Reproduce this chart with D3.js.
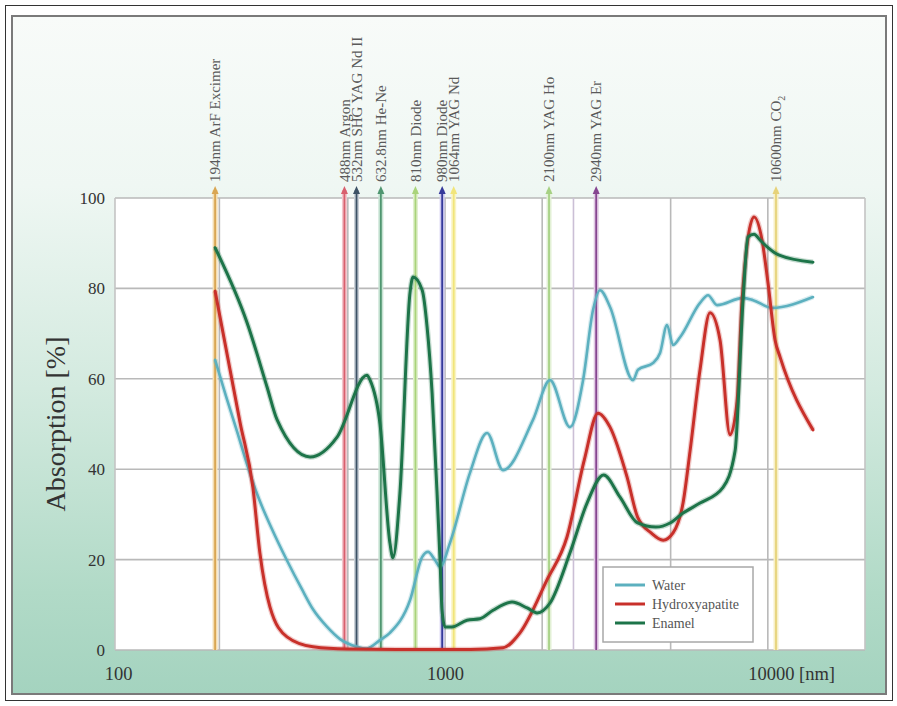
<!DOCTYPE html>
<html>
<head>
<meta charset="utf-8">
<script src="https://cdn.jsdelivr.net/npm/d3@7"></script>
<style>
  html, body { margin: 0; padding: 0; background: #ffffff; }
  svg { display: block; }
</style>
</head>
<body>
<svg id="chart" width="897" height="706"></svg>
<script>
// ---------------- DATA ----------------
const waterWl  = [194, 210, 227, 245, 265, 290, 324, 360, 390, 430, 473, 534, 570, 629, 675, 779, 850, 886, 931, 965, 1036, 1195, 1350, 1512, 1873, 2115, 2439, 2677, 2874, 3021, 3245, 3824, 3962, 4410, 4636, 4873, 5086, 5347, 6166, 6529, 6961, 8381, 9000, 10303, 13800];
const waterAbs = [64.2, 56, 48.3, 40.5, 33.5, 27, 19.8, 13.5, 9, 5.2, 2.4, 0.7, 0.3, 2.2, 3.8, 11, 20.6, 21.7, 19.9, 18.4, 23.7, 39.2, 48, 39.8, 50.9, 59.7, 49.3, 59.7, 75.2, 79.6, 75.9, 59.7, 62, 63.5, 65.7, 71.9, 67.5, 69.2, 76.8, 78.5, 76.3, 77.9, 77.4, 75.7, 78.1];

const hapWl  = [194, 232, 254, 267, 287, 324, 390, 497, 800, 1200, 1512, 1707, 2070, 2387, 2700, 2978, 3245, 3663, 3950, 4350, 4740, 5086, 5462, 5742, 6166, 6622, 7111, 7638, 8029, 8322, 9063, 9595, 10013, 10528, 10915, 13800];
const hapAbs = [79.4, 50.2, 36, 21.5, 9.5, 2.9, 0.7, 0.2, 0.1, 0.1, 0.5, 3.8, 15.5, 25, 42, 52.4, 49.3, 38.3, 29.4, 25.9, 24.3, 25.9, 32.5, 44, 62, 74.6, 68.6, 47.6, 55, 77.4, 95.8, 90.7, 81.2, 68.6, 64.8, 48.7];

const enamelWl  = [194, 244, 281, 302, 382, 463, 573, 586, 629, 675, 690, 725, 779, 796, 850, 880, 912, 945, 965, 979, 1000, 1050, 1170, 1283, 1409, 1613, 1796, 1928, 2115, 2439, 2754, 3100, 3485, 3950, 4500, 4979, 5462, 6166, 7265, 7916, 8381, 8683, 9063, 9459, 10013, 10800, 13800];
const enamelAbs = [89, 72.3, 58.2, 50.9, 42.7, 47.1, 60.8, 59.7, 50, 23.7, 20.4, 34.7, 79, 82.5, 79.6, 71.5, 56.9, 34.7, 19.9, 8.8, 5.1, 5.1, 6.6, 6.9, 8.8, 10.6, 9.3, 8.2, 10.4, 21.5, 32.5, 38.7, 33.8, 28.1, 27.2, 28.1, 30.3, 32.5, 36, 44, 77.4, 91.4, 92, 90.7, 89, 87.4, 85.8];

const seriesNames = ["Water", "Hydroxyapatite", "Enamel"];

const laserWl     = [194, 488, 532, 632.8, 810, 980, 1064, 2100, 2940, 10600];
const laserLabels = ["194nm ArF Excimer", "488nm Argon", "532nm SHG YAG Nd II", "632.8nm He-Ne", "810nm Diode", "980nm Diode", "1064nm YAG Nd", "2100nm YAG Ho", "2940nm YAG Er", "10600nm CO"];
const laserSubs   = ["", "", "", "", "", "", "", "", "", "2"];

const gridWl    = [200, 500, 1000, 2000, 2500, 5000, 10000];
const gridAbs   = [0, 20, 40, 60, 80, 100];
const xTickVals = [100, 1000, 10000];
const xTickText = ["100", "1000", "10000 [nm]"];
const yTickVals = [0, 20, 40, 60, 80, 100];
const yTitle    = "Absorption [%]";

// ---------------- STYLE ----------------
const seriesColors = ["#5cb0bf", "#c8302a", "#1d7449"];
const seriesWidths = [2.6, 3, 3];
const laserColors  = ["#d9a653", "#d8606e", "#3d5266", "#4f9670", "#a9d37a", "#34399a", "#f1e57a", "#a6d184", "#864590", "#e6d27a"];
const laserHalo    = ["#f3dcb0", "#f4c4cb", "#c9d0d8", "#c6e2d2", "#e1f0cf", "#cdc9ee", "#faf4c6", "#e2f0d5", "#e0c9e3", "#f7efc6"];
const serif = "'Liberation Serif', 'DejaVu Serif', serif";

// ---------------- CHART ----------------
const svg = d3.select("#chart");
const x = d3.scaleLog().domain([95, 20000]).range([115, 865]);
const y = d3.scaleLinear().domain([0, 100]).range([650, 198]);

const defs = svg.append("defs");
const grad = defs.append("linearGradient").attr("id", "bg").attr("x1", 0).attr("y1", 0).attr("x2", 0).attr("y2", 1);
[[0, "#f8fbf9"], [0.25, "#eff7f3"], [0.55, "#d3eadf"], [0.85, "#b1dac7"], [1, "#a4d3bf"]].forEach(s =>
  grad.append("stop").attr("offset", s[0]).attr("stop-color", s[1]));

// outer frame
svg.append("rect").attr("x", 5.5).attr("y", 5.5).attr("width", 887).attr("height", 695)
  .attr("fill", "#ffffff").attr("stroke", "#333").attr("stroke-width", 1);
// inner panel
svg.append("rect").attr("x", 12).attr("y", 16).attr("width", 874).attr("height", 678)
  .attr("fill", "url(#bg)").attr("stroke", "#7a7a7a").attr("stroke-width", 2);

// plot background
svg.append("rect").attr("x", x.range()[0]).attr("y", y(100)).attr("width", x.range()[1] - x.range()[0]).attr("height", y(0) - y(100))
  .attr("fill", "#ffffff");

// gridlines
const grid = svg.append("g");
grid.selectAll("line.h").data(gridAbs).join("line")
  .attr("x1", x.range()[0]).attr("x2", x.range()[1]).attr("y1", d => y(d)).attr("y2", d => y(d))
  .attr("stroke", "#b9b9b9").attr("stroke-width", 1.6);
grid.selectAll("line.v").data(gridWl).join("line")
  .attr("x1", d => x(d)).attr("x2", d => x(d)).attr("y1", y(100)).attr("y2", y(0))
  .attr("stroke", (d, i) => d === 2500 ? "#cbbfd6" : "#b9b9b9").attr("stroke-width", 1.6);
grid.append("line").attr("x1", x.range()[0]).attr("x2", x.range()[0]).attr("y1", y(100)).attr("y2", y(0)).attr("stroke", "#c4c4c4").attr("stroke-width", 1.6);
grid.append("line").attr("x1", x.range()[1]).attr("x2", x.range()[1]).attr("y1", y(100)).attr("y2", y(0)).attr("stroke", "#c4c4c4").attr("stroke-width", 1.6);

// laser lines
const lasers = svg.append("g");
laserWl.forEach((wl, i) => {
  const lx = x(wl);
  lasers.append("line").attr("x1", lx).attr("x2", lx).attr("y1", 190).attr("y2", y(0))
    .attr("stroke", laserHalo[i]).attr("stroke-width", 5);
  lasers.append("line").attr("x1", lx).attr("x2", lx).attr("y1", 190).attr("y2", y(0))
    .attr("stroke", laserColors[i]).attr("stroke-width", 1.8);
  lasers.append("path").attr("d", `M${lx},186 L${lx - 3.5},194 L${lx + 3.5},194 Z`)
    .attr("fill", laserColors[i]);
  const t = lasers.append("text")
    .attr("transform", `translate(${lx},182) rotate(-90)`)
    .attr("dy", "0.35em")
    .attr("font-family", serif).attr("font-size", 15).attr("fill", "#5a5a5a")
    .text(laserLabels[i]);
  if (laserSubs[i]) {
    t.append("tspan").attr("font-size", 10).attr("dy", "0.35em").text(laserSubs[i]);
  }
});

// series curves
const seriesWl = [waterWl, hapWl, enamelWl];
const seriesAbs = [waterAbs, hapAbs, enamelAbs];
const line = d3.line().x(d => x(d[0])).y(d => y(d[1])).curve(d3.curveMonotoneX);
seriesWl.forEach((wls, k) => {
  const pts = wls.map((w, i) => [w, seriesAbs[k][i]]);
  svg.append("path").datum(pts).attr("d", line)
    .attr("fill", "none").attr("stroke", seriesColors[k]).attr("stroke-opacity", 0.25)
    .attr("stroke-width", seriesWidths[k] + 2.5).attr("stroke-linejoin", "round");
  svg.append("path").datum(pts).attr("d", line)
    .attr("fill", "none").attr("stroke", seriesColors[k])
    .attr("stroke-width", seriesWidths[k]).attr("stroke-linejoin", "round").attr("stroke-linecap", "round");
});

// axes
const yAxis = svg.append("g").attr("transform", `translate(${x.range()[0]},0)`)
  .call(d3.axisLeft(y).tickValues(yTickVals).tickSize(0).tickPadding(10).tickFormat(d3.format("d")));
yAxis.select(".domain").remove();
yAxis.selectAll("text").attr("font-family", serif).attr("font-size", 17).attr("fill", "#333");

const xFont = 18.5;
const xAxis = svg.append("g").attr("transform", `translate(0,${y(0)})`)
  .call(d3.axisBottom(x).tickValues(xTickVals).tickSize(0).tickPadding(17).tickFormat((d, i) => xTickText[i]));
xAxis.select(".domain").remove();
xAxis.selectAll("text").attr("font-family", serif).attr("font-size", xFont).attr("fill", "#333");
// align "10000 [nm]" so that the number is centred on its tick
xAxis.selectAll("text").each(function (d, i) {
  if (i === 0) d3.select(this).attr("x", -4);
  if (xTickText[i].indexOf(" ") > 0) {
    const numW = (xTickText[i].split(" ")[0].length) * xFont * 0.5;
    d3.select(this).attr("text-anchor", "start").attr("x", -numW / 2 + 3);
  }
});

// y title
svg.append("text").attr("transform", `translate(55,${(y(0) + y(100)) / 2}) rotate(-90)`)
  .attr("text-anchor", "middle").attr("dy", "0.35em")
  .attr("font-family", serif).attr("font-size", 28).attr("fill", "#333")
  .text(yTitle);

// legend
const lg = svg.append("g").attr("transform", "translate(603,567)");
lg.append("rect").attr("width", 150).attr("height", 75).attr("fill", "#ffffff")
  .attr("stroke", "#a8a8a8").attr("stroke-width", 1.5);
seriesNames.forEach((nm, k) => {
  const ly = 18 + k * 19;
  lg.append("line").attr("x1", 12).attr("x2", 42).attr("y1", ly).attr("y2", ly)
    .attr("stroke", seriesColors[k]).attr("stroke-width", 3);
  lg.append("text").attr("x", 49).attr("y", ly).attr("dy", "0.35em")
    .attr("font-family", serif).attr("font-size", 14).attr("fill", "#555").text(nm);
});
</script>
</body>
</html>
